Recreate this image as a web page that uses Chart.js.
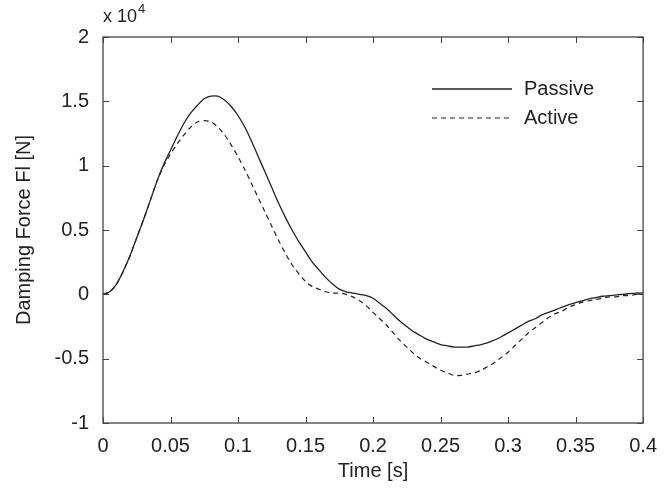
<!DOCTYPE html>
<html>
<head>
<meta charset="utf-8">
<script src="https://cdn.jsdelivr.net/npm/chart.js@4.4.1/dist/chart.umd.min.js"></script>
<style>
  html, body { margin: 0; padding: 0; background: #fff; }
  #wrap { width: 668px; height: 492px; }
</style>
</head>
<body>
<div id="wrap"><canvas id="grafico" width="668" height="492"></canvas></div>
<script>
// time samples [s]
const tempos = [
  0.000, 0.005, 0.010, 0.015, 0.020, 0.025, 0.030, 0.035, 0.040, 0.045,
  0.050, 0.055, 0.060, 0.065, 0.070, 0.075, 0.080, 0.085, 0.090, 0.095,
  0.100, 0.105, 0.110, 0.115, 0.120, 0.125, 0.130, 0.135, 0.140, 0.145,
  0.150, 0.155, 0.160, 0.165, 0.170, 0.175, 0.180, 0.185, 0.190, 0.195,
  0.200, 0.205, 0.210, 0.215, 0.220, 0.225, 0.230, 0.235, 0.240, 0.245,
  0.250, 0.255, 0.260, 0.265, 0.270, 0.275, 0.280, 0.285, 0.290, 0.295,
  0.300, 0.305, 0.310, 0.315, 0.320, 0.325, 0.330, 0.335, 0.340, 0.345,
  0.350, 0.355, 0.360, 0.365, 0.370, 0.375, 0.380, 0.385, 0.390, 0.395,
  0.400
];

// damping force, in units of 10^4 N
const passivo = [
  0.00, 0.02, 0.08, 0.18, 0.30, 0.44, 0.58, 0.73, 0.88, 1.01,
  1.12, 1.23, 1.33, 1.41, 1.47, 1.52, 1.54, 1.54, 1.51, 1.46,
  1.39, 1.30, 1.19, 1.07, 0.95, 0.83, 0.71, 0.60, 0.50, 0.41,
  0.33, 0.25, 0.19, 0.13, 0.08, 0.04, 0.02, 0.01, 0.00, -0.01,
  -0.03, -0.07, -0.11, -0.16, -0.21, -0.25, -0.29, -0.32, -0.35, -0.37,
  -0.39, -0.40, -0.41, -0.41, -0.41, -0.40, -0.39, -0.375, -0.355, -0.33,
  -0.30, -0.27, -0.24, -0.21, -0.19, -0.16, -0.14, -0.12, -0.10, -0.08,
  -0.065, -0.05, -0.035, -0.025, -0.015, -0.01, -0.005, 0.00, 0.005, 0.01,
  0.01
];

const ativo = [
  0.00, 0.02, 0.08, 0.18, 0.30, 0.44, 0.58, 0.73, 0.88, 1.00,
  1.09, 1.17, 1.24, 1.30, 1.34, 1.35, 1.34, 1.30, 1.24, 1.16,
  1.07, 0.97, 0.86, 0.75, 0.64, 0.53, 0.42, 0.32, 0.23, 0.16,
  0.10, 0.06, 0.04, 0.02, 0.01, 0.01, 0.00, -0.02, -0.05, -0.09,
  -0.14, -0.19, -0.24, -0.30, -0.36, -0.41, -0.46, -0.50, -0.53, -0.56,
  -0.59, -0.61, -0.63, -0.63, -0.62, -0.61, -0.59, -0.56, -0.53, -0.49,
  -0.45, -0.40, -0.35, -0.30, -0.26, -0.22, -0.18, -0.15, -0.13, -0.10,
  -0.08, -0.06, -0.05, -0.04, -0.03, -0.02, -0.02, -0.01, -0.01, 0.00,
  0.00
];

const ticksX = [0, 0.05, 0.1, 0.15, 0.2, 0.25, 0.3, 0.35, 0.4];
const rotulosX = ['0', '0.05', '0.1', '0.15', '0.2', '0.25', '0.3', '0.35', '0.4'];
const ticksY = [-1, -0.5, 0, 0.5, 1, 1.5, 2];
const rotulosY = ['-1', '-0.5', '0', '0.5', '1', '1.5', '2'];

const fonte = '"Liberation Sans", Arial, Helvetica, sans-serif';
const corTexto = '#222';
const corLinha = '#222';

// box around the plot, inward ticks, legend and the x10^4 exponent
const moldura = {
  id: 'moldura',
  afterDraw(chart) {
    const { ctx, chartArea: a, scales } = chart;
    ctx.save();
    ctx.strokeStyle = '#444';
    ctx.lineWidth = 1.3;
    ctx.strokeRect(a.left, a.top, a.right - a.left, a.bottom - a.top);

    const L = 6;
    ctx.lineWidth = 1;
    ctx.beginPath();
    ticksX.forEach(v => {
      const px = Math.round(scales.x.getPixelForValue(v)) + 0.5;
      ctx.moveTo(px, a.bottom); ctx.lineTo(px, a.bottom - L);
      ctx.moveTo(px, a.top); ctx.lineTo(px, a.top + L);
    });
    ticksY.forEach(v => {
      const py = Math.round(scales.y.getPixelForValue(v)) + 0.5;
      ctx.moveTo(a.left, py); ctx.lineTo(a.left + L, py);
      ctx.moveTo(a.right, py); ctx.lineTo(a.right - L, py);
    });
    ctx.stroke();

    // legend, top right inside the plot
    ctx.font = '20px ' + fonte;
    ctx.fillStyle = corTexto;
    ctx.textBaseline = 'middle';
    chart.data.datasets.forEach((ds, i) => {
      const y = 89 + i * 29;
      ctx.strokeStyle = ds.borderColor;
      ctx.lineWidth = ds.borderWidth;
      ctx.setLineDash(ds.borderDash || []);
      ctx.beginPath();
      ctx.moveTo(432, y); ctx.lineTo(512, y);
      ctx.stroke();
      ctx.setLineDash([]);
      ctx.fillText(ds.label, 524, y);
    });

    // exponent over the y axis
    ctx.textBaseline = 'alphabetic';
    ctx.font = '18px ' + fonte;
    ctx.fillText('x 10', a.left, 22);
    const w = ctx.measureText('x 10').width;
    ctx.font = '13px ' + fonte;
    ctx.fillText('4', a.left + w + 1, 13);
    ctx.restore();
  }
};

function criarGrafico() {
  const ctx = document.getElementById('grafico').getContext('2d');

  new Chart(ctx, {
    type: 'line',
    data: {
      labels: tempos,
      datasets: [
        {
          label: 'Passive',
          data: tempos.map((t, i) => ({ x: t, y: passivo[i] })),
          borderColor: corLinha,
          borderWidth: 1.3,
          pointRadius: 0,
          tension: 0.3,
          fill: false
        },
        {
          label: 'Active',
          data: tempos.map((t, i) => ({ x: t, y: ativo[i] })),
          borderColor: corLinha,
          borderWidth: 1.2,
          borderDash: [5, 4],
          pointRadius: 0,
          tension: 0.3,
          fill: false
        }
      ]
    },
    options: {
      responsive: false,
      animation: false,
      devicePixelRatio: 1,
      layout: { padding: { left: 0, right: 17, top: 37, bottom: 0 } },
      plugins: {
        legend: { display: false },
        tooltip: { enabled: false }
      },
      scales: {
        x: {
          type: 'linear',
          min: 0,
          max: 0.4,
          afterBuildTicks: s => { s.ticks = ticksX.map(v => ({ value: v })); },
          afterFit: s => { s.height = 69; },
          grid: { display: false, drawTicks: false },
          border: { display: false },
          ticks: {
            autoSkip: false,
            maxRotation: 0,
            padding: 11,
            color: corTexto,
            font: { family: fonte, size: 20 },
            callback: (v, i) => rotulosX[i]
          },
          title: {
            display: true,
            text: 'Time [s]',
            color: corTexto,
            font: { family: fonte, size: 20 },
            padding: { top: 0, bottom: 9 }
          }
        },
        y: {
          min: -1,
          max: 2,
          afterBuildTicks: s => { s.ticks = ticksY.map(v => ({ value: v })); },
          afterFit: s => { s.width = 103; },
          grid: { display: false, drawTicks: false },
          border: { display: false },
          ticks: {
            padding: 14,
            color: corTexto,
            font: { family: fonte, size: 20 },
            callback: (v, i) => rotulosY[i]
          },
          title: {
            display: true,
            text: 'Damping Force Fl [N]',
            color: corTexto,
            font: { family: fonte, size: 20 },
            padding: { top: 12, bottom: 0 }
          }
        }
      }
    },
    plugins: [moldura]
  });
}

window.addEventListener('load', criarGrafico);
</script>
</body>
</html>
